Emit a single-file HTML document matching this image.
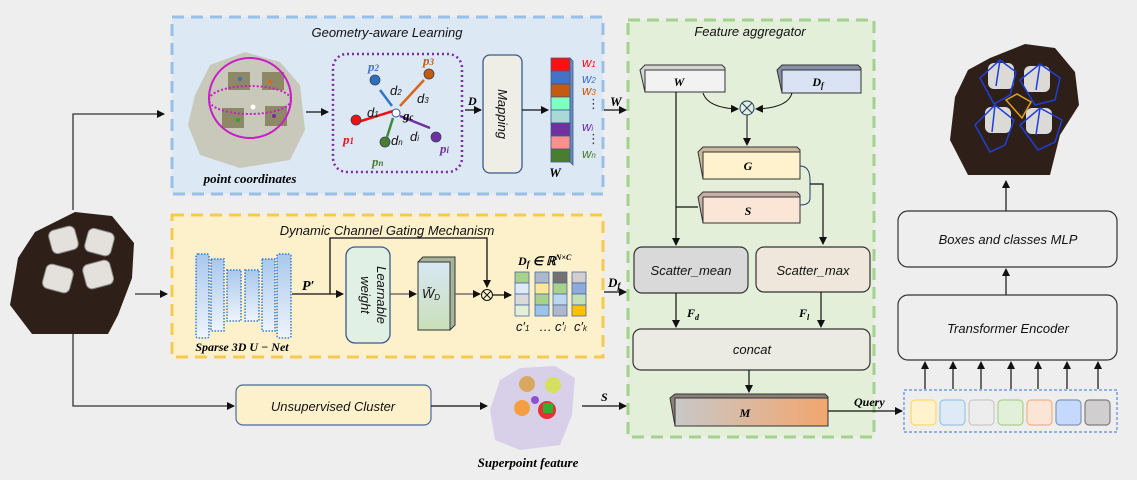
<!DOCTYPE html>
<html><head><meta charset="utf-8"><style>
html,body{margin:0;padding:0;background:#eeeeee;}
svg{display:block;}
text{font-family:"Liberation Sans","DejaVu Sans",sans-serif;}
.t{font-style:italic;font-size:13px;fill:#111;}
.b{font-family:"Liberation Serif",serif;font-weight:bold;font-style:italic;}
</style></head><body>
<svg width="1137" height="480" viewBox="0 0 1137 480" xmlns="http://www.w3.org/2000/svg">
<defs>
<marker id="a" markerWidth="8" markerHeight="8" refX="7" refY="4" orient="auto" markerUnits="userSpaceOnUse"><path d="M0,0 L8,4 L0,8 z" fill="#111"/></marker>
<linearGradient id="ub" x1="0" y1="0" x2="0" y2="1"><stop offset="0" stop-color="#a9c8ec"/><stop offset="1" stop-color="#eef4fb"/></linearGradient>
<linearGradient id="mg" x1="0" y1="0" x2="1" y2="0"><stop offset="0" stop-color="#c8c8c8"/><stop offset="1" stop-color="#f2a66e"/></linearGradient>
<linearGradient id="wd" x1="0" y1="0" x2="0" y2="1"><stop offset="0" stop-color="#d8e7f4"/><stop offset="1" stop-color="#c9e0b8"/></linearGradient>
</defs>
<rect width="1137" height="480" fill="#eeeeee"/>

<rect x="172" y="17" width="431" height="177" fill="#dde8f5" stroke="#98c0e6" stroke-width="3" stroke-dasharray="12,7"/>
<rect x="172" y="215" width="431" height="142" fill="#fdf1cc" stroke="#f6ca4e" stroke-width="3" stroke-dasharray="12,7"/>
<rect x="628" y="20" width="246" height="417" fill="#e3efd9" stroke="#a3d28d" stroke-width="3" stroke-dasharray="12,7"/>

<text x="387" y="37" text-anchor="middle" class="t" font-size="14">Geometry-aware Learning</text>
<text x="387" y="235" text-anchor="middle" class="t" font-size="14">Dynamic Channel Gating Mechanism</text>
<text x="750" y="36" text-anchor="middle" class="t" font-size="13">Feature aggregator</text>

<!-- Left input scene -->
<path d="M18,258 L35,232 L75,212 L112,216 L134,243 L132,278 L118,315 L108,334 L32,334 L10,305 L14,282 Z" fill="#2e2018"/>
<g fill="#e4e1dc" stroke="#888" stroke-width="1">
<rect x="50" y="228" width="27" height="24" rx="6" transform="rotate(-15 63 240)"/>
<rect x="86" y="230" width="27" height="24" rx="6" transform="rotate(15 99 242)"/>
<rect x="44" y="266" width="28" height="25" rx="6" transform="rotate(15 58 278)"/>
<rect x="84" y="262" width="28" height="25" rx="6" transform="rotate(-15 98 274)"/>
</g>

<polyline points="73,210 73,114 164,114" fill="none" stroke="#333" stroke-width="1.3" marker-end="url(#a)"/>
<line x1="135" y1="294" x2="167" y2="294" stroke="#333" stroke-width="1.3" marker-end="url(#a)"/>
<polyline points="73,334 73,406 234,406" fill="none" stroke="#333" stroke-width="1.3" marker-end="url(#a)"/>

<path d="M195,95 L210,65 L245,52 L280,62 L300,85 L305,130 L290,160 L240,168 L200,155 L188,125 Z" fill="#c8c9bb"/>
<g fill="#7f7a52" opacity="0.8"><rect x="228" y="72" width="22" height="18"/><rect x="262" y="72" width="22" height="18"/><rect x="222" y="108" width="22" height="20"/><rect x="265" y="106" width="22" height="20"/></g>
<ellipse cx="250" cy="98" rx="41" ry="40" fill="none" stroke="#c81ec8" stroke-width="2"/>
<ellipse cx="250" cy="100" rx="41" ry="14" fill="none" stroke="#c81ec8" stroke-width="2" stroke-dasharray="2,2"/>
<circle cx="253" cy="107" r="2.5" fill="#fff"/>
<circle cx="240" cy="79" r="2" fill="#3a6fc2"/><circle cx="270" cy="82" r="2" fill="#d26a1e"/><circle cx="238" cy="120" r="2" fill="#3a9a3a"/><circle cx="274" cy="116" r="2" fill="#7a2a9a"/>
<text x="250" y="183" text-anchor="middle" class="b" font-size="13">point coordinates</text>
<line x1="306" y1="112" x2="328" y2="112" stroke="#111" stroke-width="1.3" marker-end="url(#a)"/>

<rect x="333" y="54" width="129" height="118" rx="14" fill="none" stroke="#7a2ea0" stroke-width="2.5" stroke-dasharray="2,3"/>
<g stroke-width="2.5" fill="none">
<line x1="393" y1="111" x2="358" y2="122" stroke="#e11"/>
<line x1="392" y1="106" x2="380" y2="90" stroke="#2f77c0"/>
<line x1="400" y1="106" x2="424" y2="80" stroke="#d2691e"/>
<line x1="400" y1="116" x2="430" y2="128" stroke="#7030a0"/>
<line x1="393" y1="118" x2="387" y2="137" stroke="#3d8b37"/>
</g>
<circle cx="356" cy="120" r="5" fill="#e11" stroke="#345" stroke-width="0.8"/>
<circle cx="375" cy="80" r="5" fill="#2f6fc0" stroke="#345" stroke-width="0.8"/>
<circle cx="429" cy="74" r="5" fill="#c55a11" stroke="#345" stroke-width="0.8"/>
<circle cx="436" cy="137" r="5" fill="#7030a0" stroke="#345" stroke-width="0.8"/>
<circle cx="385" cy="142" r="5" fill="#4a7d30" stroke="#345" stroke-width="0.8"/>
<circle cx="396" cy="113" r="4" fill="#fff" stroke="#2f5597" stroke-width="1"/>
<text x="343" y="144" class="b" fill="#e11" font-size="13">p<tspan font-size="9">1</tspan></text>
<text x="368" y="71" class="b" fill="#4472c4" font-size="13">p<tspan font-size="9">2</tspan></text>
<text x="423" y="65" class="b" fill="#c55a11" font-size="13">p<tspan font-size="9">3</tspan></text>
<text x="440" y="153" class="b" fill="#7030a0" font-size="13">p<tspan font-size="9">i</tspan></text>
<text x="372" y="166" class="b" fill="#4a7d30" font-size="13">p<tspan font-size="9">n</tspan></text>
<text x="403" y="120" class="b" font-size="13">g<tspan font-size="9">c</tspan></text>
<text x="367" y="117" class="t" fill="#e11" font-size="11">d<tspan font-size="8">1</tspan></text>
<text x="390" y="95" class="t" fill="#2f77c0" font-size="11">d<tspan font-size="8">2</tspan></text>
<text x="417" y="103" class="t" fill="#d2691e" font-size="11">d<tspan font-size="8">3</tspan></text>
<text x="410" y="141" class="t" fill="#7030a0" font-size="11">d<tspan font-size="8">i</tspan></text>
<text x="391" y="145" class="t" fill="#3d8b37" font-size="11">d<tspan font-size="8">n</tspan></text>

<line x1="465" y1="110" x2="481" y2="110" stroke="#111" stroke-width="1.3" marker-end="url(#a)"/>
<text x="468" y="105" class="b" font-size="12">D</text>
<rect x="483" y="55" width="39" height="118" rx="7" fill="#eeeee6" stroke="#3d5a8a" stroke-width="1.3"/>
<text transform="translate(498,114) rotate(90)" text-anchor="middle" class="t" font-size="13">Mapping</text>
<line x1="522" y1="110" x2="548" y2="110" stroke="#111" stroke-width="1.3" marker-end="url(#a)"/>

<g stroke="#3d5a8a" stroke-width="0.8">
<rect x="551" y="58" width="19" height="13" fill="#ff1010"/>
<rect x="551" y="71" width="19" height="13" fill="#4472c4"/>
<rect x="551" y="84" width="19" height="13" fill="#c55a11"/>
<rect x="551" y="97" width="19" height="13" fill="#80ffc0"/>
<rect x="551" y="110" width="19" height="13" fill="#a8d8d8"/>
<rect x="551" y="123" width="19" height="13" fill="#7030a0"/>
<rect x="551" y="136" width="19" height="13" fill="#ff8f8f"/>
<rect x="551" y="149" width="19" height="13" fill="#4a7d30"/>
<path d="M570,58 L573,61 L573,165 L570,162 Z" fill="#6a8ac0"/>
</g>
<text x="555" y="177" text-anchor="middle" class="b" font-size="13">W</text>
<g class="t" font-size="11">
<text x="582" y="67" fill="#e11">w<tspan font-size="8">1</tspan></text>
<text x="582" y="83" fill="#4472c4">w<tspan font-size="8">2</tspan></text>
<text x="582" y="95" fill="#c55a11">w<tspan font-size="8">3</tspan></text>
<text x="587" y="108" fill="#333">⋮</text>
<text x="582" y="131" fill="#7030a0">w<tspan font-size="8">i</tspan></text>
<text x="587" y="143" fill="#333">⋮</text>
<text x="582" y="158" fill="#4a7d30">w<tspan font-size="8">n</tspan></text>
</g>
<line x1="604" y1="110" x2="626" y2="110" stroke="#111" stroke-width="1.3" marker-end="url(#a)"/>
<text x="610" y="106" class="b" font-size="13">W</text>

<g fill="url(#ub)" stroke="#3a7bd0" stroke-width="1.5" stroke-dasharray="1.5,1.5">
<rect x="196" y="254" width="13" height="84" rx="2"/>
<rect x="211" y="259" width="13" height="72"/>
<rect x="227" y="270" width="14" height="51"/>
<rect x="245" y="270" width="14" height="51"/>
<rect x="262" y="259" width="13" height="72"/>
<rect x="277" y="254" width="14" height="84" rx="2"/>
</g>
<text x="242" y="351" text-anchor="middle" class="b" font-size="12">Sparse 3D U − Net</text>
<line x1="292" y1="294" x2="343" y2="294" stroke="#111" stroke-width="1.3" marker-end="url(#a)"/>
<text x="302" y="290" class="b" font-size="14">P′</text>
<polyline points="330,294 330,238 487,238 487,287" fill="none" stroke="#111" stroke-width="1.3" marker-end="url(#a)"/>
<rect x="346" y="247" width="44" height="96" rx="9" fill="#e0f0e4" stroke="#3d5a8a" stroke-width="1.3"/>
<text transform="translate(377,295) rotate(90)" text-anchor="middle" class="t" font-size="13">Learnable</text>
<text transform="translate(361,295) rotate(90)" text-anchor="middle" class="t" font-size="13">weight</text>
<line x1="390" y1="294" x2="416" y2="294" stroke="#555" stroke-width="1.3" marker-end="url(#a)"/>
<path d="M418,262 L423,257 L455,257 L455,325 L450,330 Z" fill="#a6b59a" stroke="#333" stroke-width="1"/>
<rect x="418" y="262" width="32" height="68" fill="url(#wd)" stroke="#333" stroke-width="1"/>
<text x="422" y="298" class="t" font-size="11">W̃<tspan font-size="8" dy="2">D</tspan></text>
<line x1="455" y1="294" x2="480" y2="294" stroke="#555" stroke-width="1.3" marker-end="url(#a)"/>
<circle cx="487" cy="295" r="5.5" fill="#fdf1cc" stroke="#111" stroke-width="1"/>
<path d="M483,291 L491,299 M491,291 L483,299" stroke="#111" stroke-width="1"/>
<line x1="493" y1="295" x2="511" y2="295" stroke="#111" stroke-width="1.3" marker-end="url(#a)"/>
<g stroke="#4a6a9a" stroke-width="0.8">
<rect x="515" y="272" width="14" height="11" fill="#a9d18e"/><rect x="515" y="283" width="14" height="11" fill="#deebf7"/><rect x="515" y="294" width="14" height="11" fill="#dadada"/><rect x="515" y="305" width="14" height="11" fill="#e2f0d9"/>
<rect x="535" y="272" width="14" height="11" fill="#adb9ca"/><rect x="535" y="283" width="14" height="11" fill="#ffe699"/><rect x="535" y="294" width="14" height="11" fill="#a9d18e"/><rect x="535" y="305" width="14" height="11" fill="#9dc3e6"/>
<rect x="553" y="272" width="14" height="11" fill="#767171"/><rect x="553" y="283" width="14" height="11" fill="#a9d18e"/><rect x="553" y="294" width="14" height="11" fill="#bdd7ee"/><rect x="553" y="305" width="14" height="11" fill="#adb9ca"/>
<rect x="572" y="272" width="14" height="11" fill="#d0cece"/><rect x="572" y="283" width="14" height="11" fill="#8faadc"/><rect x="572" y="294" width="14" height="11" fill="#c5e0b4"/><rect x="572" y="305" width="14" height="11" fill="#ffc000"/>
</g>
<text x="518" y="265" class="b" font-size="12">D<tspan font-size="9" dy="2">f</tspan><tspan dy="-2"> ∈ ℝ</tspan><tspan font-size="8" dy="-5">N×C</tspan></text>
<g class="t" font-size="11"><text x="516" y="331">c′<tspan font-size="8">1</tspan></text><text x="539" y="331">…</text><text x="555" y="331">c′<tspan font-size="8">i</tspan></text><text x="574" y="331">c′<tspan font-size="8">k</tspan></text></g>
<line x1="604" y1="292" x2="626" y2="292" stroke="#111" stroke-width="1.3" marker-end="url(#a)"/>
<text x="608" y="287" class="b" font-size="13">D<tspan font-size="9" dy="2">f</tspan></text>

<rect x="236" y="385" width="195" height="40" rx="7" fill="#fdf1cc" stroke="#4a6aa0" stroke-width="1.2"/>
<text x="333" y="411" text-anchor="middle" class="t" font-size="14">Unsupervised Cluster</text>
<line x1="431" y1="406" x2="487" y2="406" stroke="#111" stroke-width="1.3" marker-end="url(#a)"/>
<path d="M500,380 L520,368 L555,366 L575,378 L572,415 L560,445 L520,450 L495,440 L490,410 Z" fill="#d8cfe8"/>
<circle cx="527" cy="384" r="8" fill="#d8a860"/><circle cx="553" cy="385" r="8" fill="#d6e060"/>
<circle cx="522" cy="408" r="8" fill="#f5a040"/><circle cx="547" cy="410" r="9" fill="#e83030"/><rect x="543" y="403" width="10" height="10" fill="#30b030"/><circle cx="535" cy="400" r="4" fill="#9050d0"/>
<text x="528" y="467" text-anchor="middle" class="b" font-size="13">Superpoint feature</text>
<line x1="582" y1="406" x2="626" y2="406" stroke="#111" stroke-width="1.3" marker-end="url(#a)"/>
<text x="601" y="401" class="b" font-size="12">S</text>

<path d="M640,70 L645,65 L722,65 L725,68 L725,92 L645,92 Z" fill="#d5d5d5" stroke="#333" stroke-width="1"/>
<rect x="645" y="70" width="80" height="22" fill="#f2f2f2" stroke="#333" stroke-width="1"/>
<text x="679" y="86" text-anchor="middle" class="b" font-size="12">W</text>
<path d="M777,70 L782,65 L858,65 L861,68 L861,93 L782,93 Z" fill="#8a8fa8" stroke="#333" stroke-width="1"/>
<rect x="782" y="70" width="79" height="23" fill="#dae3f3" stroke="#333" stroke-width="1"/>
<text x="818" y="86" text-anchor="middle" class="b" font-size="12">D<tspan font-size="8" dy="2">f</tspan></text>
<path d="M703,93 Q708,108 738,109" fill="none" stroke="#111" stroke-width="1" marker-end="url(#a)"/>
<path d="M792,93 Q788,108 756,109" fill="none" stroke="#111" stroke-width="1" marker-end="url(#a)"/>
<circle cx="747" cy="108" r="7" fill="#e3efd9" stroke="#223a6a" stroke-width="1"/>
<path d="M742,103 L752,113 M752,103 L742,113" stroke="#223a6a" stroke-width="1"/>
<line x1="747" y1="115" x2="747" y2="145" stroke="#111" stroke-width="1" marker-end="url(#a)"/>
<path d="M698,152 L703,147 L797,147 L800,150 L800,179 L703,179 Z" fill="#c9b89a" stroke="#333" stroke-width="1"/>
<rect x="703" y="152" width="97" height="27" fill="#fff2cc" stroke="#333" stroke-width="1"/>
<text x="748" y="170" text-anchor="middle" class="b" font-size="12">G</text>
<path d="M698,197 L703,192 L797,192 L800,195 L800,223 L703,223 Z" fill="#c8b0a8" stroke="#333" stroke-width="1"/>
<rect x="703" y="197" width="97" height="26" fill="#fbe5d6" stroke="#333" stroke-width="1"/>
<text x="748" y="215" text-anchor="middle" class="b" font-size="12">S</text>
<path d="M800,166 Q810,166 810,180 L810,198 Q810,205 800,205" fill="none" stroke="#223a6a" stroke-width="1"/>
<polyline points="810,184 823,184 823,244" fill="none" stroke="#111" stroke-width="1.2" marker-end="url(#a)"/>
<line x1="676" y1="92" x2="676" y2="245" stroke="#111" stroke-width="1.2" marker-end="url(#a)"/>
<line x1="676" y1="207" x2="698" y2="207" stroke="#111" stroke-width="1.2"/>
<rect x="634" y="247" width="114" height="46" rx="8" fill="#d9d9d9" stroke="#333" stroke-width="1.2"/>
<text x="691" y="275" text-anchor="middle" class="t" font-size="13">Scatter_mean</text>
<rect x="756" y="247" width="114" height="45" rx="8" fill="#efe7db" stroke="#333" stroke-width="1.2"/>
<text x="813" y="275" text-anchor="middle" class="t" font-size="13">Scatter_max</text>
<line x1="676" y1="293" x2="676" y2="327" stroke="#111" stroke-width="1.2" marker-end="url(#a)"/>
<line x1="821" y1="292" x2="821" y2="327" stroke="#111" stroke-width="1.2" marker-end="url(#a)"/>
<text x="687" y="317" class="b" font-size="12">F<tspan font-size="8" dy="3">d</tspan></text>
<text x="799" y="317" class="b" font-size="12">F<tspan font-size="8" dy="3">l</tspan></text>
<rect x="633" y="329" width="237" height="41" rx="8" fill="#ebebe4" stroke="#333" stroke-width="1.2"/>
<text x="752" y="354" text-anchor="middle" class="t" font-size="13">concat</text>
<line x1="749" y1="370" x2="749" y2="392" stroke="#111" stroke-width="1.2" marker-end="url(#a)"/>
<path d="M670,398 L675,394 L825,394 L828,397 L828,426 L675,426 Z" fill="#8a8078" stroke="#333" stroke-width="1"/>
<rect x="675" y="398" width="153" height="28" fill="url(#mg)" stroke="#333" stroke-width="1"/>
<text x="745" y="417" text-anchor="middle" class="b" font-size="12">M</text>
<line x1="828" y1="411" x2="902" y2="411" stroke="#111" stroke-width="1.2" marker-end="url(#a)"/>
<text x="854" y="406" class="b" font-size="12">Query</text>

<rect x="904" y="390" width="213" height="42" fill="#eeeeee" stroke="#5a8ad6" stroke-width="1.2" stroke-dasharray="3,2"/>
<g stroke-width="1.2">
<rect x="911" y="400" width="25" height="25" rx="4" fill="#fff2cc" stroke="#ffd966"/>
<rect x="940" y="400" width="25" height="25" rx="4" fill="#deebf7" stroke="#9dc3e6"/>
<rect x="969" y="400" width="25" height="25" rx="4" fill="#ededed" stroke="#c9c9c9"/>
<rect x="998" y="400" width="25" height="25" rx="4" fill="#e2f0d9" stroke="#a9d18e"/>
<rect x="1027" y="400" width="25" height="25" rx="4" fill="#fbe5d6" stroke="#f4b183"/>
<rect x="1056" y="400" width="25" height="25" rx="4" fill="#c5d9ff" stroke="#8497b0"/>
<rect x="1085" y="400" width="25" height="25" rx="4" fill="#d0cece" stroke="#7f7f7f"/>
</g>
<g stroke="#111" stroke-width="1.2" marker-end="url(#a)">
<line x1="925" y1="389" x2="925" y2="362"/><line x1="953" y1="389" x2="953" y2="362"/><line x1="981" y1="389" x2="981" y2="362"/><line x1="1011" y1="389" x2="1011" y2="362"/><line x1="1038" y1="389" x2="1038" y2="362"/><line x1="1067" y1="389" x2="1067" y2="362"/><line x1="1098" y1="389" x2="1098" y2="362"/>
<line x1="1006" y1="295" x2="1006" y2="269"/>
<line x1="1006" y1="211" x2="1006" y2="181"/>
</g>
<rect x="898" y="295" width="219" height="65" rx="10" fill="#eeeeee" stroke="#333" stroke-width="1.2"/>
<text x="1008" y="333" text-anchor="middle" class="t" font-size="14">Transformer Encoder</text>
<rect x="898" y="211" width="219" height="56" rx="10" fill="#eeeeee" stroke="#333" stroke-width="1.2"/>
<text x="1008" y="244" text-anchor="middle" class="t" font-size="14">Boxes and classes MLP</text>

<path d="M955,97 L968,70 L990,58 L1025,44 L1055,48 L1075,72 L1079,105 L1060,135 L1050,175 L968,175 L950,140 Z" fill="#2e2018"/>
<g fill="#dcdad6"><rect x="988" y="63" width="26" height="26" rx="6"/><rect x="1024" y="66" width="26" height="26" rx="6"/><rect x="985" y="107" width="26" height="26" rx="6"/><rect x="1026" y="108" width="26" height="26" rx="6"/></g>
<g fill="none" stroke="#1f3fd8" stroke-width="1.5">
<path d="M980,78 L1000,60 L1016,72 L1010,95 L994,104 Z M1000,60 L996,86 M980,78 L994,104"/>
<path d="M1020,80 L1040,64 L1060,78 L1055,100 L1035,105 Z M1040,64 L1036,90 M1020,80 L1035,105"/>
<path d="M975,125 L995,105 L1014,120 L1005,145 L990,152 Z M995,105 L992,132 M975,125 L990,152"/>
<path d="M1020,125 L1040,108 L1062,120 L1055,142 L1038,150 Z M1040,108 L1036,135 M1020,125 L1038,150"/>
</g>
<path d="M1006,100 L1017,94 L1031,102 L1022,118 Z" fill="none" stroke="#e0a020" stroke-width="1.5"/>
</svg>
</body></html>
